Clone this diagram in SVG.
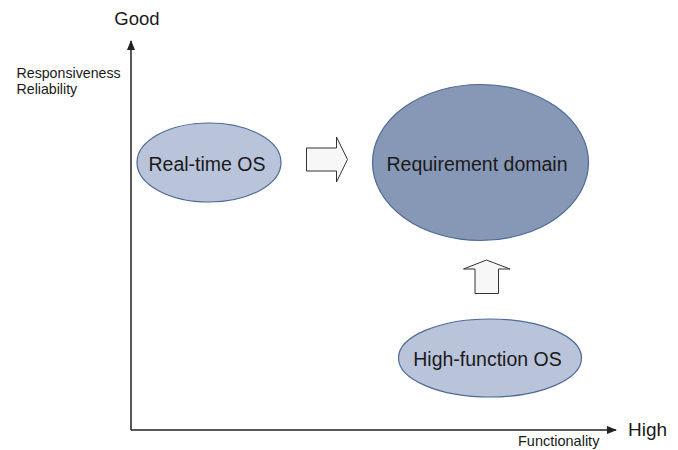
<svg xmlns="http://www.w3.org/2000/svg" width="678" height="450" viewBox="0 0 678 450">
<style>
text{font-family:"Liberation Sans",Arial,sans-serif;fill:#1a1a1a}
.big{font-size:19.5px}
.small{font-size:14.2px}
.node{stroke:#4d6a96;stroke-width:1.2}
.blk{fill:#f7f7f7;stroke:#333;stroke-width:1}
.axis{stroke:#222;stroke-width:1.5;fill:none}
</style>
<defs>
<marker id="ah" markerWidth="10" markerHeight="8" refX="9" refY="4" orient="auto" markerUnits="userSpaceOnUse">
<path d="M0,0 L10,4 L0,8 Z" fill="#222"/>
</marker>
</defs>
<rect width="678" height="450" fill="#fff"/>
<g id="connectors">
<line class="axis" x1="131" y1="430" x2="131" y2="41" marker-end="url(#ah)"/>
<line class="axis" x1="131" y1="430" x2="616" y2="430" marker-end="url(#ah)"/>
<path class="blk" d="M306.5,148 L336.5,148 L336.5,137 L347.5,159.5 L336.5,182 L336.5,171 L306.5,171 Z"/>
<path class="blk" d="M475,293.5 L475,269 L463.5,269 L486.5,260 L510,269 L498.5,269 L498.5,293.5 Z"/>
</g>
<g id="labels">
<text x="137" y="24.5" text-anchor="middle" style="font-size:18.5px">Good</text>
<text class="small" x="16.5" y="77.5">Responsiveness</text>
<text class="small" x="16.5" y="93.5">Reliability</text>
<text x="628" y="436" style="font-size:19px">High</text>
<text x="518" y="446" style="font-size:14.5px">Functionality</text>
</g>
<g id="realtime">
<ellipse class="node" cx="209" cy="162.5" rx="72" ry="39.5" fill="#b9c3d9"/>
<text class="big" x="207" y="170.5" text-anchor="middle">Real-time OS</text>
</g>
<g id="requirement">
<ellipse class="node" cx="480.5" cy="162.5" rx="108" ry="78" fill="#8797b6"/>
<text class="big" x="477" y="170.5" text-anchor="middle">Requirement domain</text>
</g>
<g id="highfunction">
<ellipse class="node" cx="490" cy="358" rx="91.5" ry="39" fill="#b9c3d9"/>
<text class="big" x="487.5" y="365.5" text-anchor="middle">High-function OS</text>
</g>
</svg>
